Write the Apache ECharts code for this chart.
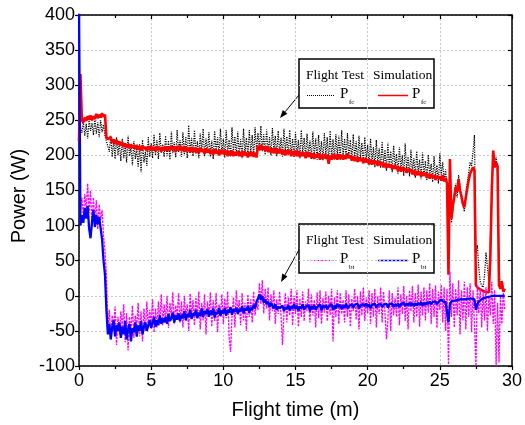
<!DOCTYPE html>
<html>
<head>
<meta charset="utf-8">
<script src="https://cdn.jsdelivr.net/npm/echarts@6/dist/echarts.min.js"></script>
<style>html,body{margin:0;padding:0;background:#fff}#c{width:525px;height:425px}</style>
</head>
<body>
<div id="c"></div>
<script>
// sampling: every 0.1 min from 0 to 29.5
const tStart = 0, tStep = 0.1;
const xTicks = [0, 5, 10, 15, 20, 25, 30];
const yTicks = [-100, -50, 0, 50, 100, 150, 200, 250, 300, 350, 400];

// Flight test P_fc (W)
const fcTest = [
 230,240,232,248,228,245,224,250,235,246,
 229,252,231,247,226,250,233,244,228,220,
 213,205,228,198,222,195,226,200,218,192,
 224,196,215,190,228,199,212,186,220,195,
 210,183,216,176,222,190,205,185,226,198,
 218,196,230,200,222,195,232,204,216,198,
 228,199,221,194,234,203,219,197,236,205,
 222,198,233,201,226,196,243,204,225,199,
 236,202,220,196,231,205,238,199,224,203,
 233,198,221,195,235,204,226,200,238,202,
 224,197,236,203,222,198,240,205,227,199,
 234,201,223,196,238,204,225,199,236,202,
 229,198,240,205,232,208,242,206,230,201,
 237,204,226,200,239,206,228,199,235,203,
 225,198,238,204,227,201,236,199,224,197,
 233,200,222,196,236,203,225,198,231,199,
 221,195,234,200,224,194,229,198,220,193,
 232,199,226,190,235,196,223,194,230,198,
 228,194,236,199,224,195,232,197,222,192,
 230,195,220,190,228,196,218,188,226,193,
 215,186,224,190,212,183,222,188,210,182,
 220,185,208,178,218,184,206,176,214,182,
 202,174,212,180,200,171,217,178,198,170,
 208,176,196,168,206,174,194,166,204,172,
 192,164,201,170,188,162,199,168,186,160,
 203,172,190,165,180,150,60,180,104,120,
 145,160,140,172,155,136,128,120,145,160,
 175,190,185,205,229,60,72,40,20,15,
 12,30,62,40,20,80,140,200,188,198,
 172,40,10,22,5,8
];

// Simulation P_fc (W)
const fcSim = [
 220,316,250,247,254,249,256,251,257,250,
 256,252,259,253,258,254,260,255,258,226,
 223,221,226,218,223,216,222,215,220,214,
 219,212,217,211,216,210,216,211,214,209,
 215,208,213,207,214,209,212,206,213,208,
 213,207,212,206,213,208,211,205,212,207,
 213,206,212,207,214,208,212,205,213,207,
 214,207,212,205,213,206,211,204,212,205,
 211,204,210,203,211,205,209,202,210,204,
 209,202,208,201,209,203,207,200,208,202,
 208,201,207,199,206,200,207,199,205,200,
 206,199,205,198,206,200,204,197,205,199,
 205,198,204,197,214,207,215,208,213,206,
 213,205,211,204,210,203,211,202,209,203,
 209,201,208,200,207,202,208,199,206,200,
 207,199,206,198,205,199,204,196,205,198,
 204,196,203,195,202,197,203,194,201,196,
 202,195,201,188,200,194,202,195,201,194,
 202,195,201,194,200,195,203,196,200,193,
 199,192,198,191,197,192,196,189,196,190,
 195,188,194,187,193,188,192,185,192,186,
 190,183,189,182,188,183,187,180,186,181,
 185,178,184,177,183,178,182,175,181,177,
 180,173,179,171,178,172,177,170,176,171,
 175,168,174,167,173,168,172,165,171,167,
 170,164,172,163,168,160,30,195,110,128,
 140,155,148,166,150,142,131,126,140,153,
 165,174,176,183,178,15,12,10,9,8,
 7,6,5,4,5,55,150,207,183,190,
 185,15,10,20,6,10
];

// Flight test P_bt (W)
const btTest = [
 420,120,140,112,145,124,160,118,150,100,
 140,104,136,95,130,108,122,85,64,30,
 -45,-20,-62,-28,-50,-15,-70,-30,-55,-22,
 -48,-12,-66,-25,-78,-30,-52,-14,-60,-28,
 -44,-10,-58,-22,-65,-18,-50,-8,-46,-20,
 -40,-5,-52,-18,-45,-8,-38,2,-42,-12,
 -35,0,-46,-10,-30,5,-40,-14,-28,4,
 -38,-8,-45,0,-32,-12,-50,3,-28,-6,
 -42,-2,-30,6,-48,-10,-35,2,-55,-8,
 -30,5,-44,-6,-36,4,-52,-12,-28,2,
 -40,-4,-32,6,-58,-80,-30,-2,-45,8,
 -26,-6,-42,4,-35,-10,-50,2,-30,-5,
 -38,6,-28,-8,-20,18,-12,22,-25,10,
 -18,12,-35,2,-22,8,-40,-5,-26,6,
 -30,-70,-24,4,-38,-2,-28,10,-42,0,
 -26,8,-44,-4,-30,6,-36,-8,-22,10,
 -38,2,-28,-6,-45,5,-32,8,-40,-3,
 -24,6,-36,0,-28,10,-65,-2,-30,8,
 -40,4,-26,-6,-38,8,-30,2,-44,-4,
 -22,10,-34,0,-48,6,-28,12,-36,-2,
 -25,8,-40,4,-30,10,-45,0,-26,12,
 -38,6,-24,-62,-35,8,-50,4,-28,-3,
 -30,12,-42,2,-26,14,-36,0,-48,8,
 -22,14,-38,4,-30,16,-44,6,-28,12,
 -35,8,-24,18,-40,10,-30,15,-46,6,
 -20,16,-38,12,-50,10,-98,35,-30,18,
 -45,10,-28,22,-55,8,-35,20,-48,12,
 -30,18,-52,8,-40,-100,15,-25,10,-45,
 5,-35,12,-50,0,-28,20,-40,8,-100,
 -10,-95,0,-40,5,-20
];

// Simulation P_bt (W)
const btSim = [
 420,100,115,104,125,110,128,96,82,105,
 122,98,115,102,112,96,80,50,30,-20,
 -55,-40,-62,-45,-35,-58,-42,-50,-38,-60,
 -44,-55,-36,-62,-48,-40,-65,-46,-52,-38,
 -58,-42,-50,-36,-55,-44,-38,-50,-42,-35,
 -46,-38,-30,-44,-35,-42,-28,-40,-32,-38,
 -30,-40,-26,-36,-32,-24,-38,-28,-34,-25,
 -36,-27,-32,-22,-35,-26,-30,-20,-33,-25,
 -28,-20,-32,-24,-29,-18,-30,-22,-26,-19,
 -30,-21,-27,-18,-31,-23,-26,-17,-29,-21,
 -25,-18,-28,-20,-24,-16,-27,-19,-23,-17,
 -26,-19,-22,-15,-25,-18,-21,-14,-24,-17,
 -20,-13,-18,-8,-4,2,-6,0,-10,-5,
 -12,-8,-16,-10,-14,-18,-12,-20,-15,-18,
 -20,-14,-22,-16,-19,-13,-21,-15,-18,-12,
 -19,-14,-21,-15,-18,-12,-20,-16,-17,-13,
 -22,-15,-19,-13,-20,-16,-18,-12,-21,-14,
 -17,-13,-19,-15,-16,-12,-20,-14,-18,-12,
 -16,-13,-19,-14,-17,-11,-18,-15,-14,-12,
 -17,-13,-15,-11,-18,-14,-16,-12,-15,-11,
 -16,-12,-18,-13,-15,-11,-17,-13,-15,-12,
 -16,-13,-15,-11,-17,-12,-14,-11,-16,-12,
 -15,-11,-16,-12,-14,-10,-15,-11,-14,-10,
 -14,-10,-15,-11,-14,-10,-13,-9,-14,-10,
 -13,-9,-12,-8,-12,-9,-11,-8,-12,-9,
 -7,-5,-8,-6,-9,-10,-38,-12,-8,-9,
 -7,-8,-6,-7,-5,-6,-5,-4,-5,-4,
 -4,-3,-4,-3,-5,-20,-12,-8,-6,-5,
 -4,-3,-3,-2,-2,-1,-1,0,0,0,
 1,0,1,0,1,0
];

function pairs(vals) {
  return vals.map((v, i) => [+(tStart + i * tStep).toFixed(2), v]);
}

const chart = echarts.init(document.getElementById('c'), null, {renderer: 'canvas'});
const sans = 'Arial, "Liberation Sans", Helvetica, sans-serif';
const serif = '"Times New Roman", "Liberation Serif", serif';
const axisCommon = {
  axisLine: {show: true, onZero: false, lineStyle: {color: '#000', width: 1.5}},
};

function legendBox(x, y, testStyle, simColor, sub) {
  const els = [
    {type: 'rect', shape: {x: x, y: y, width: 135, height: 49},
     style: {fill: '#fff', stroke: '#000', lineWidth: 1.5}},
    {type: 'text', style: {x: x + 7, y: y + 23, text: 'Flight Test', font: '13.5px ' + serif, fill: '#000', textVerticalAlign: 'bottom'}},
    {type: 'text', style: {x: x + 74, y: y + 23, text: 'Simulation', font: '13.5px ' + serif, fill: '#000', textVerticalAlign: 'bottom'}},
    {type: 'line', shape: {x1: x + 8, y1: y + 36.5, x2: x + 36, y2: y + 36.5}, style: testStyle},
    {type: 'text', style: {x: x + 41, y: y + 43, text: 'P', font: '15px ' + serif, fill: '#000', textVerticalAlign: 'bottom'}},
    {type: 'text', style: {x: x + 50, y: y + 47, text: sub, font: '7px ' + serif, fill: '#000', textVerticalAlign: 'bottom'}},
    {type: 'line', shape: {x1: x + 79, y1: y + 36.5, x2: x + 109, y2: y + 36.5}, style: {stroke: simColor, lineWidth: 1.5}},
    {type: 'text', style: {x: x + 113, y: y + 43, text: 'P', font: '15px ' + serif, fill: '#000', textVerticalAlign: 'bottom'}},
    {type: 'text', style: {x: x + 122, y: y + 47, text: sub, font: '7px ' + serif, fill: '#000', textVerticalAlign: 'bottom'}}
  ];
  return els;
}

function arrow(x1, y1, x2, y2) {
  const ang = Math.atan2(y2 - y1, x2 - x1);
  const L = 8, W = 3;
  const bx = x2 - L * Math.cos(ang), by = y2 - L * Math.sin(ang);
  const px = -Math.sin(ang) * W, py = Math.cos(ang) * W;
  return [
    {type: 'line', shape: {x1: x1, y1: y1, x2: bx, y2: by}, style: {stroke: '#000', lineWidth: 1}},
    {type: 'polygon', shape: {points: [[x2, y2], [bx + px, by + py], [bx - px, by - py]]}, style: {fill: '#000'}}
  ];
}

const option = {
  animation: false,
  backgroundColor: '#fff',
  grid: {left: 79, right: 10, top: 15, bottom: 57.5, containLabel: false},
  xAxis: [
    Object.assign({
      type: 'value', min: xTicks[0], max: xTicks[xTicks.length - 1], interval: 5,
      name: 'Flight time (m)', nameLocation: 'middle', nameGap: 34,
      nameTextStyle: {fontFamily: sans, fontSize: 20, color: '#000'},
      axisTick: {show: true, inside: false, length: 4, lineStyle: {color: '#000', width: 1.2}},
      minorTick: {show: true, splitNumber: 2, length: 3, lineStyle: {color: '#000', width: 1.2}},
      axisLabel: {fontFamily: sans, fontSize: 18, color: '#000', margin: 6},
      splitLine: {show: true, lineStyle: {color: '#c8c8c8', type: [2, 2], width: 1}}
    }, axisCommon),
    Object.assign({
      type: 'value', position: 'top', min: xTicks[0], max: xTicks[xTicks.length - 1], interval: 5,
      axisTick: {show: true, inside: true, length: 4, lineStyle: {color: '#000', width: 1.2}},
      minorTick: {show: true, splitNumber: 2, length: 3, lineStyle: {color: '#000', width: 1.2}},
      axisLabel: {show: false}, splitLine: {show: false}
    }, axisCommon)
  ],
  yAxis: [
    Object.assign({
      type: 'value', min: yTicks[0], max: yTicks[yTicks.length - 1], interval: 50,
      axisTick: {show: true, inside: false, length: 4, lineStyle: {color: '#000', width: 1.2}},
      axisLabel: {fontFamily: sans, fontSize: 18, color: '#000', margin: 4},
      splitLine: {show: true, lineStyle: {color: '#c8c8c8', type: [2, 2], width: 1}}
    }, axisCommon),
    Object.assign({
      type: 'value', position: 'right', min: yTicks[0], max: yTicks[yTicks.length - 1], interval: 50,
      axisTick: {show: true, inside: true, length: 4, lineStyle: {color: '#000', width: 1.2}},
      axisLabel: {show: false}, splitLine: {show: false}
    }, axisCommon)
  ],
  series: [
    {name: 'Flight Test Pfc', type: 'line', data: pairs(fcTest), showSymbol: false, symbol: 'none',
     lineStyle: {color: '#000', width: 1.2, type: [1.2, 1.2]}, z: 2},
    {name: 'Simulation Pfc', type: 'line', data: pairs(fcSim), showSymbol: false, symbol: 'none',
     lineStyle: {color: '#ff0000', width: 2.6}, z: 3},
    {name: 'Flight Test Pbt', type: 'line', data: pairs(btTest), showSymbol: false, symbol: 'none',
     lineStyle: {color: '#ff00ff', width: 1.3, type: [2.5, 1]}, z: 4},
    {name: 'Simulation Pbt', type: 'line', data: pairs(btSim), showSymbol: false, symbol: 'none',
     lineStyle: {color: '#0000ff', width: 2.3}, z: 5}
  ],
  graphic: [].concat(
    [{type: 'text', x: 19, y: 196, rotation: Math.PI / 2,
      style: {text: 'Power (W)', font: '20px ' + sans, fill: '#000', textAlign: 'center', textVerticalAlign: 'middle'}}],
    arrow(299, 95, 280, 118),
    arrow(300, 248, 281, 282),
    legendBox(299, 59, {stroke: '#000', lineWidth: 1, lineDash: [1, 1]}, '#ff0000', 'fc'),
    legendBox(299, 224, {stroke: '#ff00ff', lineWidth: 1, lineDash: [2, 1.5]}, '#0000ff', 'bt')
  )
};
chart.setOption(option);
</script>
</body>
</html>
